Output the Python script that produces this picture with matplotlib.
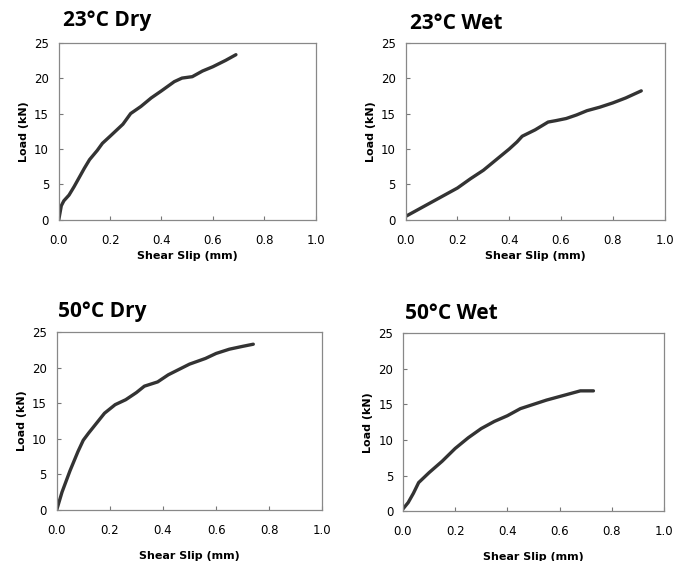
import matplotlib
matplotlib.use("Agg")
import matplotlib.pyplot as plt

# Load vs shear slip
slip_23_dry = [0.0, 0.005, 0.01, 0.02, 0.04, 0.06, 0.08, 0.10, 0.12, 0.15, 0.17, 0.20,
               0.25, 0.28, 0.32, 0.36, 0.40, 0.45, 0.48, 0.52, 0.56, 0.60, 0.65, 0.69]
load_23_dry = [0.0, 1.0, 2.0, 2.7, 3.5, 4.7, 6.0, 7.3, 8.5, 9.8, 10.8, 11.8,
               13.5, 15.0, 16.0, 17.2, 18.2, 19.5, 20.0, 20.2, 21.0, 21.6, 22.5, 23.3]

slip_23_wet = [0.0, 0.05, 0.10, 0.15, 0.20, 0.25, 0.30, 0.35, 0.40, 0.43, 0.45, 0.50,
               0.55, 0.58, 0.62, 0.66, 0.70, 0.75, 0.80, 0.85, 0.91]
load_23_wet = [0.5, 1.5, 2.5, 3.5, 4.5, 5.8, 7.0, 8.5, 10.0, 11.0, 11.8, 12.7,
               13.8, 14.0, 14.3, 14.8, 15.4, 15.9, 16.5, 17.2, 18.2]

slip_50_dry = [0.0, 0.02, 0.05, 0.08, 0.10, 0.12, 0.15, 0.18, 0.22, 0.26, 0.30, 0.33,
               0.38, 0.42, 0.50, 0.56, 0.60, 0.65, 0.70, 0.74]
load_50_dry = [0.0, 2.5, 5.5, 8.2, 9.8, 10.8, 12.2, 13.6, 14.8, 15.5, 16.5, 17.4,
               18.0, 19.0, 20.5, 21.3, 22.0, 22.6, 23.0, 23.3]

slip_50_wet = [0.0, 0.02, 0.04, 0.06, 0.08, 0.10, 0.15, 0.20, 0.25, 0.30, 0.35, 0.40,
               0.45, 0.50, 0.55, 0.60, 0.65, 0.68, 0.73]
load_50_wet = [0.3, 1.2, 2.5, 4.0, 4.7, 5.4, 7.0, 8.8, 10.3, 11.6, 12.6, 13.4,
               14.4, 15.0, 15.6, 16.1, 16.6, 16.9, 16.9]

titles = ["23°C Dry", "23°C Wet", "50°C Dry", "50°C Wet"]
x_ticks = [0.0, 0.2, 0.4, 0.6, 0.8, 1.0]
y_ticks = [0, 5, 10, 15, 20, 25]

fig = plt.figure(figsize=(6.83, 5.61), dpi=100)

# axes rectangles [left, bottom, width, height] and title positions
panels = [
    ([0.086, 0.608, 0.376, 0.316], (0.092, 0.964), slip_23_dry, load_23_dry, 3),
    ([0.594, 0.608, 0.379, 0.316], (0.600, 0.959), slip_23_wet, load_23_wet, 3),
    ([0.083, 0.091, 0.389, 0.317], (0.085, 0.444), slip_50_dry, load_50_dry, 10),
    ([0.590, 0.089, 0.382, 0.317], (0.593, 0.442), slip_50_wet, load_50_wet, 10),
]

for (rect, tpos, xs, ys, pad), title in zip(panels, titles):
    ax = fig.add_axes(rect)
    ax.plot(xs, ys, color="#333333", lw=2.4, solid_capstyle="round")
    ax.set_xlim(0, 1.0)
    ax.set_ylim(0, 25)
    ax.set_xticks(x_ticks)
    ax.set_xticklabels([f"{v:.1f}" for v in x_ticks])
    ax.set_yticks(y_ticks)
    ax.tick_params(direction="in", length=3, width=0.8, color="#777777",
                   labelsize=8.5)
    ax.tick_params(axis="x", pad=10)
    ax.tick_params(axis="y", pad=7)
    for s in ax.spines.values():
        s.set_color("#888888")
        s.set_linewidth(0.9)
    ax.set_xlabel("Shear Slip (mm)", fontsize=8, fontweight="bold", labelpad=pad)
    ax.set_ylabel("Load (kN)", fontsize=8, fontweight="bold", labelpad=4)
    fig.text(tpos[0], tpos[1], title, fontsize=15, fontweight="bold",
             family="Open Sans", va="center", ha="left")

fig.savefig("out.png", dpi=100)
